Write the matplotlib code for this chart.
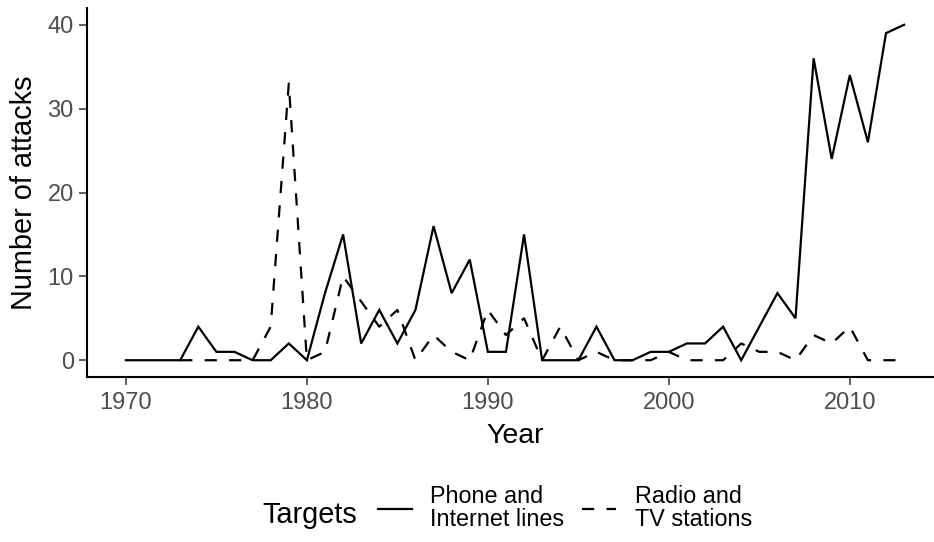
import matplotlib
matplotlib.use('Agg')
import matplotlib.pyplot as plt

years_phone = list(range(1970, 2014))
phone = [0, 0, 0, 0, 4, 1, 1, 0, 0, 2,
         0, 8, 15, 2, 6, 2, 6, 16, 8, 12,
         1, 1, 15, 0, 0, 0, 4, 0, 0, 1,
         1, 2, 2, 4, 0, 4, 8, 5, 36, 24,
         34, 26, 39, 40]

years_radio = list(range(1973, 2014))
radio = [0, 0, 0, 0, 0, 4, 33,
         0, 1, 10, 7, 4, 6, 0, 3, 1, 0,
         6, 3, 5, 0, 4, 0, 1, 0, 0, 0,
         1, 0, 0, 0, 2, 1, 1, 0, 3, 2,
         4, 0, 0, 0]

xticks = [1970, 1980, 1990, 2000, 2010]
yticks = [0, 10, 20, 30, 40]
labels = ['Phone and\nInternet lines', 'Radio and\nTV stations']

plt.rcParams['font.family'] = ['Liberation Sans', 'DejaVu Sans']

W, H = 934, 542
fig = plt.figure(figsize=(W / 100, H / 100), dpi=100)
ax = fig.add_axes([87 / W, (H - 377) / H, (943 - 87) / W, (377 - 8) / H])

lw = 1.6
l1, = ax.plot(years_phone, phone, color='black', lw=lw, solid_joinstyle='miter')
l2, = ax.plot(years_radio, radio, color='black', lw=lw, dashes=(5.5, 5.5))

ax.set_xlim(1967.85, 2015.15)
ax.set_ylim(-2, 42)
ax.set_xticks(xticks)
ax.set_yticks(yticks)

for s in ['top', 'right']:
    ax.spines[s].set_visible(False)
for s in ['left', 'bottom']:
    ax.spines[s].set_linewidth(1.5)
ax.tick_params(length=5.5, width=1.1, color='#333333', labelcolor='#4D4D4D',
               labelsize=17, pad=4)
ax.tick_params(axis='x', pad=5)

ax.set_xlabel('Year', fontsize=20.5, labelpad=6.5)
ax.set_ylabel('Number of attacks', fontsize=20.8, labelpad=7)

fig.text(262 / W, (H - 523) / H, 'Targets', fontsize=20.8, va='baseline', ha='left')
leg = fig.legend([l1, l2], labels, loc='center left', bbox_to_anchor=(378 / W, (H - 508) / H),
                 ncol=2, frameon=False, fontsize=16.8, handlelength=1.45,
                 handletextpad=0.8, columnspacing=0.75, borderpad=0, borderaxespad=0)
for t in leg.get_texts():
    t.set_linespacing(0.95)

fig.savefig('out.png', dpi=100)
